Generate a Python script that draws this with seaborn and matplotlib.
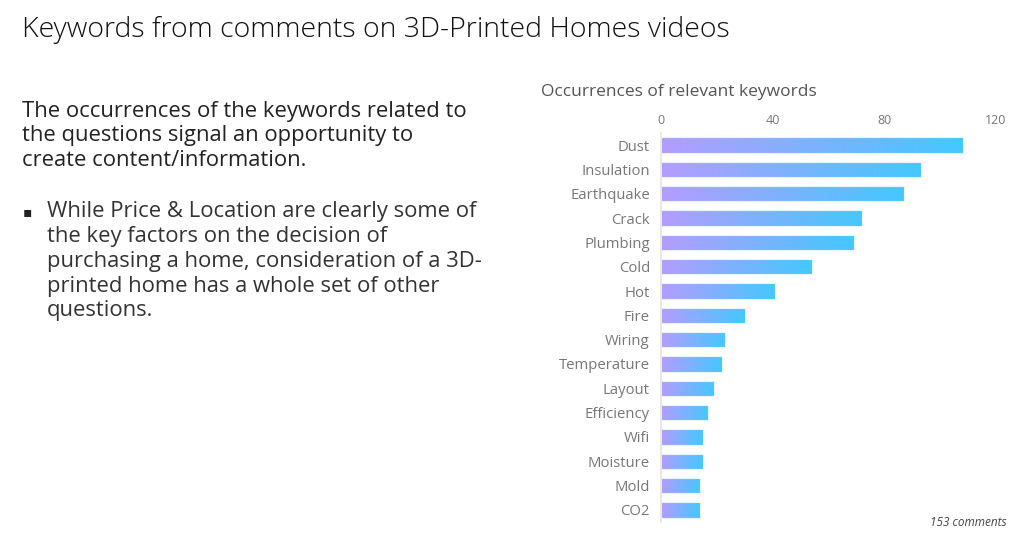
import numpy as np
import pandas as pd
import seaborn as sns
import matplotlib.pyplot as plt
from matplotlib.colors import LinearSegmentedColormap

keywords = ['Dust', 'Insulation', 'Earthquake', 'Crack', 'Plumbing', 'Cold', 'Hot', 'Fire',
            'Wiring', 'Temperature', 'Layout', 'Efficiency', 'Wifi', 'Moisture', 'Mold', 'CO2']
counts = [108, 93, 87, 72, 69, 54, 41, 30, 23, 22, 19, 17, 15, 15, 14, 14]
ticks = [0, 40, 80, 120]

title = 'Keywords from comments on 3D-Printed Homes videos'
chart_title = 'Occurrences of relevant keywords'
para1 = ['The occurrences of the keywords related to',
         'the questions signal an opportunity to',
         'create content/information.']
para2 = ['While Price & Location are clearly some of',
         'the key factors on the decision of',
         'purchasing a home, consideration of a 3D-',
         'printed home has a whole set of other',
         'questions.']
note = '153 comments'

sns.set_style('white')
plt.rcParams['font.family'] = ['Open Sans', 'DejaVu Sans']

df = pd.DataFrame({'keyword': keywords, 'count': counts})

fig = plt.figure(figsize=(10.24, 5.45), dpi=100)
ax = fig.add_axes([661 / 1024, 1 - 522 / 545, 335 / 1024, (522 - 133) / 545])
sns.barplot(data=df, x='count', y='keyword', ax=ax, width=0.63,
            color='#b49cff', edgecolor='#e6f6ff', linewidth=0.8)

# gradient fill inside each bar
cmap = LinearSegmentedColormap.from_list('grad', ['#b49cff', '#44c8ff'])
grad = np.linspace(0, 1, 256).reshape(1, -1)
for p in ax.patches:
    x0, y0 = p.get_x(), p.get_y()
    w, h = p.get_width(), p.get_height()
    im = ax.imshow(grad, cmap=cmap, aspect='auto', extent=[x0, x0 + w, y0 + h, y0],
                   zorder=p.get_zorder() + 0.1)
    im.set_clip_path(p)
    p.set_facecolor('none')
    p.set_zorder(p.get_zorder() + 0.2)

ax.set_xlim(0, 120)
ax.set_ylim(15.5, -0.5)
ax.set_xticks(ticks)
ax.xaxis.tick_top()
ax.tick_params(axis='x', length=0, pad=4, labelsize=9, labelcolor='#777777')
ax.tick_params(axis='y', length=0, pad=8, labelsize=10.7, labelcolor='#777777')
ax.set_xlabel('')
ax.set_ylabel('')
for s in ['top', 'right', 'bottom']:
    ax.spines[s].set_visible(False)
ax.spines['left'].set_color('#e4e4e4')
ax.spines['left'].set_linewidth(1.2)

fig.text(541 / 1024, 1 - 92 / 545, chart_title, fontsize=12.5, color='#555555',
         va='center', ha='left')
fig.text(22 / 1024, 1 - 30 / 545, title, fontsize=20.5, color='#111111',
         va='center', ha='left', fontweight='light')

for i, line in enumerate(para1):
    fig.text(22 / 1024, 1 - (111 + 24.5 * i) / 545, line, fontsize=15.8,
             color='#222222', va='center', ha='left')
fig.text(23 / 1024, 1 - 212 / 545, '\u25aa', fontsize=10, color='#222222',
         va='center', ha='left', family=['DejaVu Sans'])
for i, line in enumerate(para2):
    fig.text(47 / 1024, 1 - (212 + 24.7 * i) / 545, line, fontsize=15.8,
             color='#333333', va='center', ha='left')

fig.text(1007 / 1024, 1 - 523 / 545, note, fontsize=8.5, color='#444444',
         style='italic', va='center', ha='right')

fig.savefig('out.png', dpi=100)
